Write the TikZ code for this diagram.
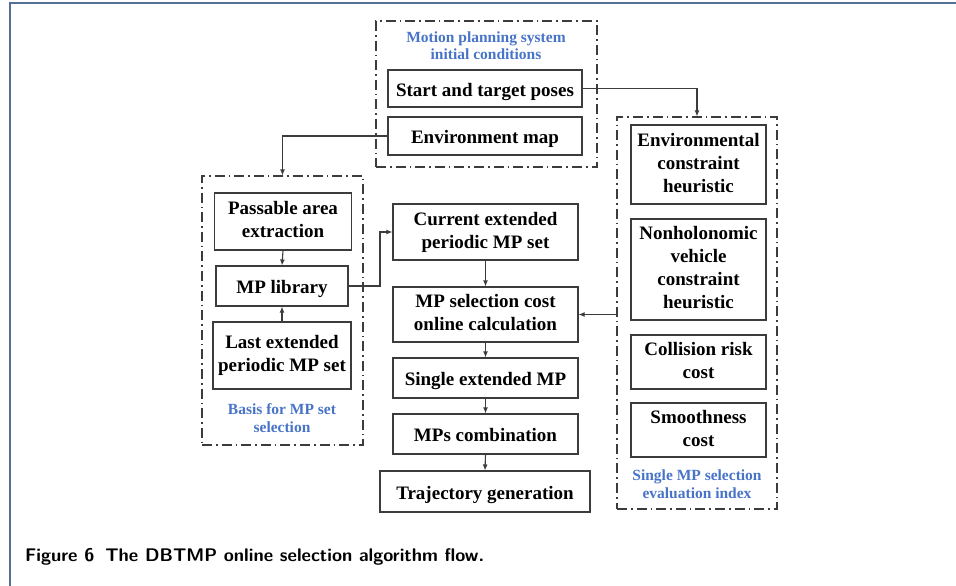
\documentclass[tikz,border=0pt]{standalone}
\usepackage{fontspec}
\setmainfont{Liberation Serif}
\usetikzlibrary{arrows.meta}
\definecolor{framecol}{RGB}{84,112,150}
\definecolor{labelblue}{RGB}{72,116,200}
\definecolor{linecol}{RGB}{60,60,60}
\tikzset{
  stepbox/.style={draw=linecol, line width=1.1pt, align=center, inner sep=0pt,
    font=\fontsize{19}{23}\selectfont\bfseries, text=black,
    execute at begin node={\rule{0pt}{19.5pt}},
    execute at end node={\rule[-4pt]{0pt}{4pt}}},
  groupbox/.style={draw=linecol, line width=1.1pt, inner sep=0pt,
    dash pattern=on 10pt off 4pt on 1.6pt off 4pt},
  grouplabel/.style={align=center, inner sep=0pt, text=labelblue,
    font=\fontsize{15.5}{17.5}\selectfont\bfseries},
  flow/.style={draw=linecol, line width=1.1pt, -{Latex[length=6pt,width=5pt]}}
}
\begin{document}
\begin{tikzpicture}[x=1pt,y=-1pt]
\useasboundingbox (0,0) rectangle (956,586);
% page frame
\draw[framecol, line width=2pt] (9.5,586) -- (9.5,3.5) -- (956,3.5);

% initial conditions group
\node[groupbox, minimum width=221pt, minimum height=146pt] (gtop) at (486.5,94) {};
\node[grouplabel] (ltop) at (486,45.5) {Motion planning system\\initial conditions};
\node[stepbox, minimum width=194pt, minimum height=37pt] (start) at (485,88.5) {Start and target poses};
\node[stepbox, minimum width=194pt, minimum height=38pt] (envmap) at (485,136) {Environment map};

% basis group
\node[groupbox, minimum width=161pt, minimum height=269pt] (gleft) at (282.5,310.5) {};
\node[grouplabel] (lleft) at (282,418) {Basis for MP set\\selection};
\node[stepbox, minimum width=137pt, minimum height=57pt] (pass) at (283,221.5) {Passable area\\extraction};
\node[stepbox, minimum width=132pt, minimum height=40pt] (lib) at (282,286) {MP library};
\node[stepbox, minimum width=138pt, minimum height=67pt] (last) at (282,355.5) {Last extended\\periodic MP set};

% main flow
\node[stepbox, minimum width=185pt, minimum height=56pt] (cur) at (485.5,232) {Current extended\\periodic MP set};
\node[stepbox, minimum width=185pt, minimum height=55pt] (cost) at (485.5,314.5) {MP selection cost\\online calculation};
\node[stepbox, minimum width=185pt, minimum height=40pt] (single) at (485.5,378) {Single extended MP};
\node[stepbox, minimum width=185pt, minimum height=40pt] (comb) at (485.5,434) {MPs combination};
\node[stepbox, minimum width=210pt, minimum height=41pt] (traj) at (485,491.5) {Trajectory generation};

% evaluation index group
\node[groupbox, minimum width=160pt, minimum height=392pt] (gright) at (697,313) {};
\node[grouplabel] (lright) at (697,484) {Single MP selection\\evaluation index};
\node[stepbox, minimum width=135pt, minimum height=79pt] (envc) at (698.5,164.5) {Environmental\\constraint\\heuristic};
\node[stepbox, minimum width=135pt, minimum height=101pt] (nonh) at (698.5,269.5) {Nonholonomic\\vehicle\\constraint\\heuristic};
\node[stepbox, minimum width=135pt, minimum height=54pt] (coll) at (698.5,362) {Collision risk\\cost};
\node[stepbox, minimum width=135pt, minimum height=54pt] (smooth) at (698.5,430) {Smoothness\\cost};

% connectors
\draw[flow] (start.east) -| (gright.north);
\draw[flow] (envmap.west) -| (gleft.north);
\draw[flow] (pass.south) -- (lib.north);
\draw[flow] (last.north) -- (lib.south);
\coordinate (bend) at (380,286);
\draw[flow] (lib.east) -- (bend) |- (cur.west);
\draw[flow] (gright.west |- cost.east) -- (cost.east);
\draw[flow] (cur.south) -- (cost.north);
\draw[flow] (cost.south) -- (single.north);
\draw[flow] (single.south) -- (comb.north);
\draw[flow] (comb.south) -- (traj.north);

% caption
\node[anchor=west, inner sep=0pt, font=\sffamily\bfseries\fontsize{18.3}{21}\selectfont] (cap) at (25,557) {Figure 6\hspace{0.6em}The DBTMP online selection algorithm flow.};
\end{tikzpicture}
\end{document}
